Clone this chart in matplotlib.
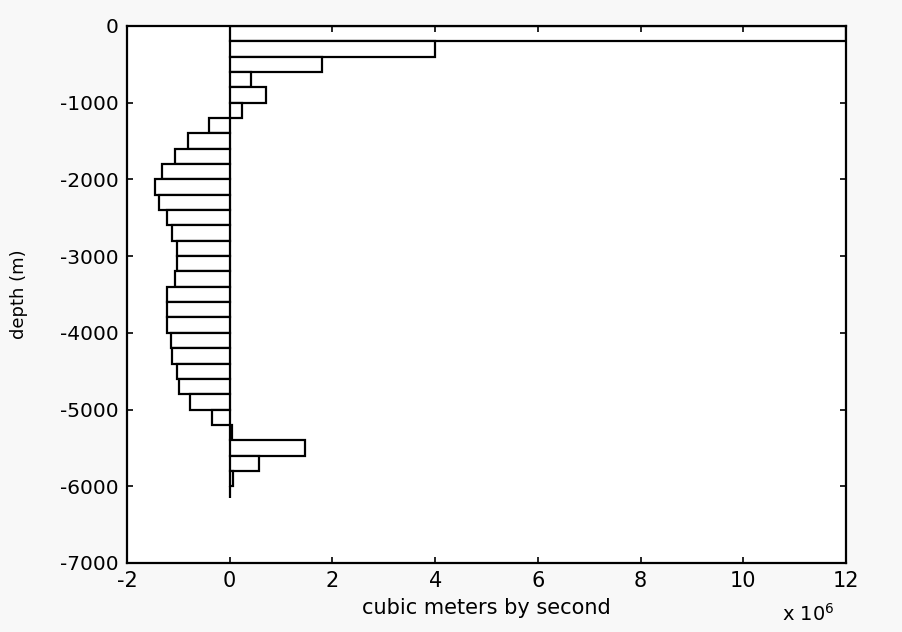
import matplotlib
matplotlib.use('Agg')
import matplotlib.pyplot as plt
import numpy as np

# depth bins (top, bottom) in metres and transport in 1e6 m3/s
depth_top = [0, -200, -400, -600, -800, -1000, -1200, -1400, -1600, -1800,
             -2000, -2200, -2400, -2600, -2800, -3000, -3200, -3400, -3600, -3800,
             -4000, -4200, -4400, -4600, -4800, -5000, -5200, -5400, -5600, -5800,
             -6000]
depth_bottom = [-200, -400, -600, -800, -1000, -1200, -1400, -1600, -1800, -2000,
                -2200, -2400, -2600, -2800, -3000, -3200, -3400, -3600, -3800, -4000,
                -4200, -4400, -4600, -4800, -5000, -5200, -5400, -5600, -5800, -6000,
                -6150]
transport = [12.0, 4.0, 1.80, 0.41, 0.70, 0.24, -0.40, -0.81, -1.07, -1.32,
             -1.45, -1.37, -1.23, -1.12, -1.02, -1.02, -1.07, -1.23, -1.23, -1.23,
             -1.15, -1.12, -1.02, -0.98, -0.77, -0.35, 0.05, 1.47, 0.58, 0.06,
             0.0]

xticks = [-2, 0, 2, 4, 6, 8, 10, 12]
yticks = [0, -1000, -2000, -3000, -4000, -5000, -6000, -7000]

narrow = ['Liberation Sans Narrow', 'DejaVu Sans']

fig = plt.figure(figsize=(9.03, 6.32), dpi=100)
fig.patch.set_facecolor('#f8f8f8')
ax = fig.add_axes([0.1406, 0.1092, 0.7963, 0.8497])
ax.set_facecolor('white')

top = np.array(depth_top, dtype=float)
bot = np.array(depth_bottom, dtype=float)
ax.barh(bot, transport, height=top - bot, align='edge', left=0,
        facecolor='white', edgecolor='black', linewidth=1.6, clip_on=True)

ax.set_xlim(-2, 12)
ax.set_ylim(-7000, 0)
ax.set_xticks(xticks)
ax.set_xticklabels([str(t) for t in xticks], family=narrow, fontsize=15)
ax.set_yticks(yticks)
ax.set_yticklabels([str(t) for t in yticks], family='DejaVu Sans', fontsize=14.5)
ax.tick_params(direction='in', length=4, width=1.2, top=True, right=True,
               colors='black', pad=6)
for s in ax.spines.values():
    s.set_linewidth(1.6)

ax.set_xlabel('cubic meters by second', family=narrow, fontsize=15, labelpad=5)
ax.set_ylabel('depth (m)', family=narrow, fontsize=13)
ax.yaxis.set_label_coords(-0.138, 0.5)
fig.text(0.866, 0.012, r'x 10$^{6}$', family=narrow, fontsize=14, ha='left', va='bottom')

fig.savefig('out.png', dpi=100, facecolor=fig.get_facecolor())
